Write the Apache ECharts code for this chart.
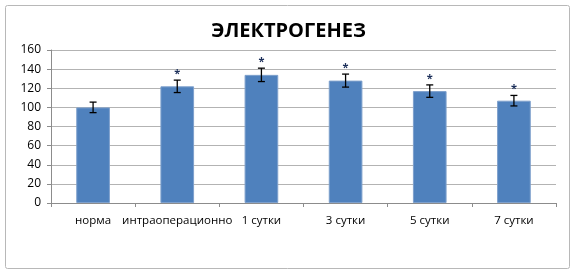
<!DOCTYPE html>
<html>
<head>
<meta charset="utf-8">
<script src="https://cdn.jsdelivr.net/npm/echarts@6/dist/echarts.min.js"></script>
<style>
  html, body { margin: 0; padding: 0; background: #fff; }
  #chart { width: 577px; height: 277px; }
</style>
</head>
<body>
<div id="chart"></div>
<script>
// Electrogenesis by observation period: mean with error bars, * = significant
const categories = ['норма', 'интраоперационно', '1 сутки', '3 сутки', '5 сутки', '7 сутки'];
const means = [100, 122, 134, 128, 117, 107];
const errors = [5.5, 6.5, 7, 6.8, 6.5, 5.5];
const marks = ['', '*', '*', '*', '*', '*'];
const yTicks = { min: 0, max: 160, interval: 20 };

const FONT = '"Open Sans", "DejaVu Sans", sans-serif';

const chart = echarts.init(document.getElementById('chart'), null, { renderer: 'canvas' });

chart.setOption({
  animation: false,
  backgroundColor: '#ffffff',
  title: {
    text: 'ЭЛЕКТРОГЕНЕЗ',
    left: 'center',
    top: 16,
    textStyle: { fontFamily: FONT, fontWeight: 'bold', fontSize: 20, color: '#000' }
  },
  graphic: [{
    type: 'rect',
    shape: { x: 5.5, y: 5.5, width: 564, height: 263, r: 2 },
    style: { fill: 'none', stroke: '#b8b8b8', lineWidth: 1 },
    z: -1
  }],
  grid: { left: 51, right: 21, top: 50, bottom: 74 },
  xAxis: {
    type: 'category',
    data: categories,
    axisLine: { show: true, lineStyle: { color: '#8c8c8c', width: 1 } },
    axisTick: { show: true, alignWithLabel: false, length: 4, lineStyle: { color: '#8c8c8c' } },
    axisLabel: { fontFamily: FONT, fontSize: 11.5, color: '#000', margin: 12, interval: 0 },
    splitLine: { show: false }
  },
  yAxis: {
    type: 'value',
    min: yTicks.min,
    max: yTicks.max,
    interval: yTicks.interval,
    axisLine: { show: true, lineStyle: { color: '#8c8c8c', width: 1 } },
    axisTick: { show: true, length: 4, lineStyle: { color: '#8c8c8c' } },
    axisLabel: { fontFamily: FONT, fontSize: 12, color: '#000', margin: 10 },
    splitLine: { show: true, lineStyle: { color: '#b3b3b3', width: 1 } }
  },
  series: [
    {
      type: 'bar',
      data: means,
      barWidth: '40%',
      itemStyle: { color: '#4f81bd', borderColor: '#7ea0cc', borderWidth: 1 }
    },
    {
      type: 'custom',
      data: means.map((m, i) => [i, m - errors[i], m + errors[i], marks[i]]),
      z: 10,
      renderItem: function (params, api) {
        const x = api.coord([api.value(0), 0])[0];
        const lo = api.coord([api.value(0), api.value(1)])[1];
        const hi = api.coord([api.value(0), api.value(2)])[1];
        const cap = 3.5;
        const stroke = { stroke: '#000', lineWidth: 1.3 };
        const children = [
          { type: 'line', shape: { x1: x, y1: hi, x2: x, y2: lo }, style: stroke },
          { type: 'line', shape: { x1: x - cap, y1: hi, x2: x + cap, y2: hi }, style: stroke },
          { type: 'line', shape: { x1: x - cap, y1: lo, x2: x + cap, y2: lo }, style: stroke }
        ];
        const mark = api.value(3);
        if (mark) {
          children.push({
            type: 'text',
            style: {
              text: mark, x: x, y: hi - 1,
              align: 'center', verticalAlign: 'bottom',
              font: 'bold 11px ' + FONT, fill: '#1c2f5a'
            }
          });
        }
        return { type: 'group', children: children };
      }
    }
  ]
});
</script>
</body>
</html>
